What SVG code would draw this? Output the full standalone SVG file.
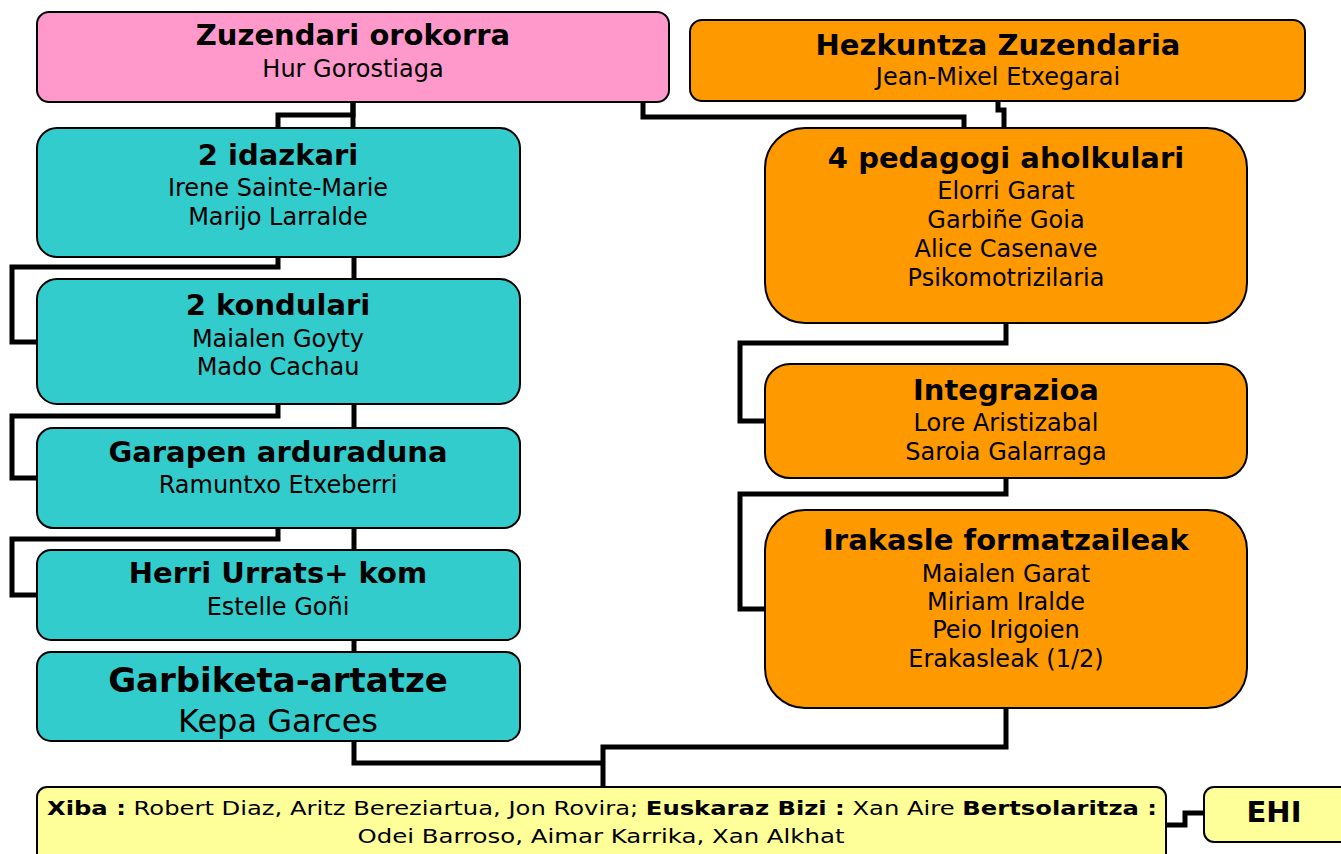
<svg xmlns="http://www.w3.org/2000/svg" width="1341" height="854" viewBox="0 0 1341 854">
<style>
  .box { stroke: #000; stroke-width: 2; }
  .pink { fill: #FF99CC; }
  .orange { fill: #FF9900; }
  .teal { fill: #33CCCC; }
  .yellow { fill: #FFFF99; }
  text { font-family: "DejaVu Sans", Verdana, sans-serif; fill: #000; text-anchor: middle; }
  .t { font-size: 29px; font-weight: bold; }
  .s { font-size: 24px; }
  .y { font-size: 20px; }
  .conn path { fill: none; stroke: #000; stroke-width: 5; stroke-linejoin: miter; }
</style>
<rect width="1341" height="854" fill="#fff"/>
<g class="conn" id="connectors">
  <path d="M353,102 V128"/>
  <path d="M353,102 V115 H278 V128"/>
  <path d="M643,102 V117 H964 V128"/>
  <path d="M998,101 V110 H1004 V128"/>
  <path d="M278,257 V267 H12 V342 H37"/>
  <path d="M354,257 V279"/>
  <path d="M278,404 V416 H12 V478 H37"/>
  <path d="M354,404 V428"/>
  <path d="M278,528 V539 H12 V595 H37"/>
  <path d="M354,528 V550"/>
  <path d="M354,640 V652"/>
  <path d="M354,741 V763 H603"/>
  <path d="M1006,708 V747 H603 V787"/>
  <path d="M1006,323 V343 H740 V421 H765"/>
  <path d="M1006,478 V494 H740 V609 H765"/>
  <path d="M1166,825 H1185 V813 H1206"/>
</g>
<g id="zuzendari">
  <rect class="box pink" x="37" y="12" width="632" height="90" rx="12"/>
  <text class="t" x="353" y="45">Zuzendari orokorra</text>
  <text class="s" x="353" y="77">Hur Gorostiaga</text>
</g>
<g id="hezkuntza">
  <rect class="box orange" x="690" y="20" width="615" height="81" rx="12"/>
  <text class="t" x="998" y="55">Hezkuntza Zuzendaria</text>
  <text class="s" x="998" y="85">Jean-Mixel Etxegarai</text>
</g>
<g id="idazkari">
  <rect class="box teal" x="37" y="128" width="483" height="129" rx="20"/>
  <text class="t" x="278" y="165">2 idazkari</text>
  <text class="s" x="278" y="196">Irene Sainte-Marie</text>
  <text class="s" x="278" y="225">Marijo Larralde</text>
</g>
<g id="kondulari">
  <rect class="box teal" x="37" y="279" width="483" height="125" rx="20"/>
  <text class="t" x="278" y="315">2 kondulari</text>
  <text class="s" x="278" y="347">Maialen Goyty</text>
  <text class="s" x="278" y="375">Mado Cachau</text>
</g>
<g id="garapen">
  <rect class="box teal" x="37" y="428" width="483" height="100" rx="16"/>
  <text class="t" x="278" y="462">Garapen arduraduna</text>
  <text class="s" x="278" y="493">Ramuntxo Etxeberri</text>
</g>
<g id="herri-urrats">
  <rect class="box teal" x="37" y="550" width="483" height="90" rx="14"/>
  <text class="t" x="278" y="583">Herri Urrats+ kom</text>
  <text class="s" x="278" y="615">Estelle Goñi</text>
</g>
<g id="garbiketa">
  <rect class="box teal" x="37" y="652" width="483" height="89" rx="14"/>
  <text class="t" x="278" y="692" style="font-size:34px">Garbiketa-artatze</text>
  <text class="s" x="278" y="732" style="font-size:32px">Kepa Garces</text>
</g>
<g id="pedagogi">
  <rect class="box orange" x="765" y="128" width="482" height="195" rx="40"/>
  <text class="t" x="1006" y="168">4 pedagogi aholkulari</text>
  <text class="s" x="1006" y="199">Elorri Garat</text>
  <text class="s" x="1006" y="228">Garbiñe Goia</text>
  <text class="s" x="1006" y="257">Alice Casenave</text>
  <text class="s" x="1006" y="286">Psikomotrizilaria</text>
</g>
<g id="integrazioa">
  <rect class="box orange" x="765" y="364" width="482" height="114" rx="25"/>
  <text class="t" x="1006" y="400">Integrazioa</text>
  <text class="s" x="1006" y="431">Lore Aristizabal</text>
  <text class="s" x="1006" y="460">Saroia Galarraga</text>
</g>
<g id="irakasle">
  <rect class="box orange" x="765" y="510" width="482" height="198" rx="40"/>
  <text class="t" x="1006" y="550">Irakasle formatzaileak</text>
  <text class="s" x="1006" y="582">Maialen Garat</text>
  <text class="s" x="1006" y="610">Miriam Iralde</text>
  <text class="s" x="1006" y="638">Peio Irigoien</text>
  <text class="s" x="1006" y="667">Erakasleak (1/2)</text>
</g>
<g id="bottom">
  <rect class="box yellow" x="37" y="787" width="1129" height="80" rx="10"/>
  <text class="y" x="602" y="815" textLength="1110" lengthAdjust="spacingAndGlyphs"><tspan font-weight="bold">Xiba :</tspan> Robert Diaz, Aritz Bereziartua, Jon Rovira; <tspan font-weight="bold">Euskaraz Bizi :</tspan> Xan Aire <tspan font-weight="bold">Bertsolaritza :</tspan></text>
  <text class="y" x="601" y="843" textLength="487" lengthAdjust="spacingAndGlyphs">Odei Barroso, Aimar Karrika, Xan Alkhat</text>
</g>
<g id="ehi">
  <rect class="box yellow" x="1204" y="787" width="150" height="55" rx="10"/>
  <text class="t" x="1274" y="822">EHI</text>
</g>
</svg>
